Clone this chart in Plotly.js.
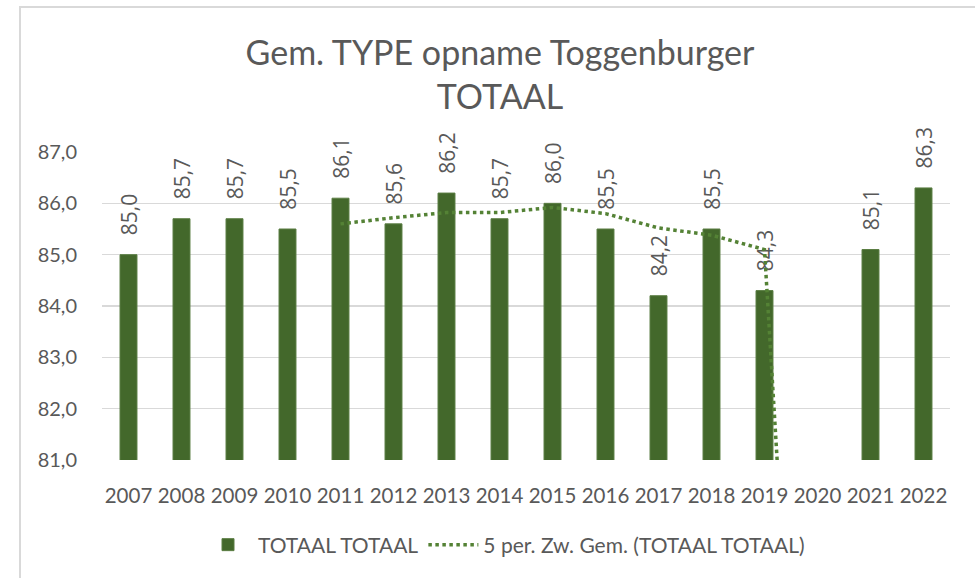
<!DOCTYPE html>
<html>
<head>
<meta charset="utf-8">
<script src="https://cdn.plot.ly/plotly-3.0.1.min.js"></script>
<style>html,body{margin:0;padding:0;background:#fff;}#chart{width:975px;height:578px;}</style>
</head>
<body>
<div id="chart"></div>
<script>
const years = ['2007','2008','2009','2010','2011','2012','2013','2014','2015','2016','2017','2018','2019','2020','2021','2022'];
const totaal = [85.0,85.7,85.7,85.5,86.1,85.6,86.2,85.7,86.0,85.5,84.2,85.5,84.3,null,85.1,86.3];
const movingAvg = [null,null,null,null,85.6,85.72,85.82,85.82,85.92,85.8,85.52,85.38,85.1,67.9,67.8,68.24];
const yTicks = [81,82,83,84,85,86,87];

const grey = '#595959';
const green = '#43682B';
const font = 'Lato, "Open Sans", sans-serif';

const traces = [
  {
    type: 'bar', name: 'TOTAAL TOTAAL', x: years, y: totaal,
    marker: {color: green, line: {color: '#5a7d43', width: 1}},
    width: 0.32,
    texttemplate: '\u00a0\u00a0\u00a0%{y:.1f}', textposition: 'outside', textangle: -90,
    constraintext: 'none',
    textfont: {family: '"Open Sans", sans-serif', size: 21, color: grey},
    cliponaxis: false, hoverinfo: 'x+y'
  },
  {
    type: 'scatter', mode: 'lines', name: '5 per. Zw. Gem. (TOTAAL TOTAAL)',
    x: years, y: movingAvg, connectgaps: false,
    line: {color: '#548235', width: 3.5, dash: 'dot'}
  }
];

const W = 975, H = 578, L = 102, R = 25, T = 152, B = 118;
const pw = W - L - R, ph = H - T - B;
const px = v => (v - L) / pw;

const layout = {
  width: W, height: H,
  margin: {l: L, r: R, t: T, b: B, pad: 0},
  paper_bgcolor: '#ffffff', plot_bgcolor: '#ffffff',
  separators: ', ',
  font: {family: font, color: grey, size: 20},
  title: {
    text: 'Gem. TYPE opname Toggenburger<br>TOTAAL',
    font: {family: font, size: 34, color: grey},
    x: 500 / W, xref: 'container', xanchor: 'center',
    y: 1 - 65 / H, yref: 'container', yanchor: 'middle'
  },
  xaxis: {
    type: 'category', tickvals: years,
    showgrid: false, zeroline: false, showline: false,
    ticks: 'outside', ticklen: 17, tickcolor: 'rgba(0,0,0,0)',
    tickfont: {family: font, size: 20.5, color: grey},
    fixedrange: true
  },
  yaxis: {
    range: [81, 87], tickvals: yTicks, tickformat: '.1f',
    showgrid: true, gridcolor: '#d9d9d9', gridwidth: 1.5,
    zeroline: false, showline: false,
    ticks: 'outside', ticklen: 20, tickcolor: 'rgba(0,0,0,0)',
    tickfont: {family: font, size: 20, color: grey},
    fixedrange: true
  },
  showlegend: true,
  legend: {
    orientation: 'h', x: (504 - L) / pw, xanchor: 'center', y: -(545 - (H - B)) / ph, yanchor: 'middle',
    font: {family: font, size: 21, color: grey}, itemwidth: 50,
    traceorder: 'normal', bgcolor: 'rgba(0,0,0,0)'
  },
  shapes: [{
    type: 'rect', xref: 'paper', yref: 'paper', layer: 'below',
    x0: px(20), x1: px(1000), y0: -0.6, y1: 1 + (T - 7) / ph,
    line: {color: '#d9d9d9', width: 2}, fillcolor: 'rgba(0,0,0,0)'
  }]
};

Plotly.newPlot('chart', traces, layout, {staticPlot: true, displayModeBar: false});
</script>
</body>
</html>
